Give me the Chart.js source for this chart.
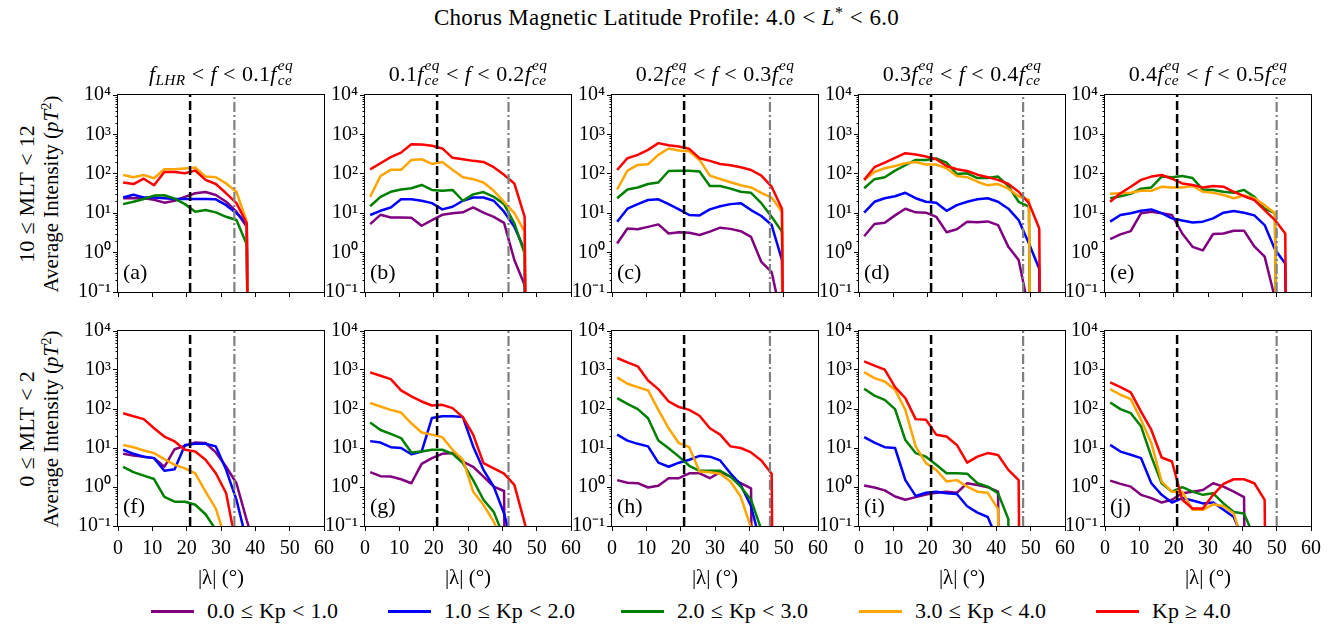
<!DOCTYPE html>
<html>
<head>
<meta charset="utf-8">
<script src="https://cdn.jsdelivr.net/npm/chart.js@4.4.1/dist/chart.umd.min.js"></script>
<style>
  body { margin: 0; background: #fff; }
  #fig { position: relative; width: 1333px; height: 628px; overflow: hidden; font-family: 'Liberation Serif', serif; color: #000; }
  #fig canvas { position: absolute; }
  .txt { position: absolute; white-space: nowrap; line-height: 24px; }
  .title { left: 0; width: 1333px; top: 6px; text-align: center; font-size: 23px; letter-spacing: 0.3px; }
  .sub { top: 57px; font-size: 22px; letter-spacing: 0.3px; transform: translateX(-50%); }
  .ylab { font-size: 21px; transform: translate(-50%, -50%) rotate(-90deg); }
  .rel { margin: 0 0.28em; }
  .txt sub { font-size: 0.7em; font-style: italic; vertical-align: -0.25em; line-height: 0; }
  .txt sup { font-size: 0.7em; vertical-align: 0.45em; line-height: 0; }
  .ss { display: inline-block; font-size: 0.7em; line-height: 1; vertical-align: -0.3em; font-style: italic; margin-left: 1px; }
  .ss span { display: block; }
  .leg { position: absolute; top: 599px; height: 24px; display: flex; align-items: center; font-size: 22px; white-space: nowrap; }
  .leg i.sw { display: inline-block; width: 43px; height: 3px; margin-right: 13px; }
</style>
</head>
<body>
<div id="fig">
  <div class="txt title">Chorus Magnetic Latitude Profile: 4.0<span class="rel">&lt;</span><i>L</i><sup>*</sup><span class="rel">&lt;</span>6.0</div>
</div>
<script>
// latitude bin centres (deg)
const X_BINS = [1.5, 4.5, 7.5, 10.5, 13.5, 16.5, 19.5, 22.5, 25.5, 28.5, 31.5, 34.5, 37.5, 40.5, 43.5, 46.5, 49.5, 52.5, 55.5, 58.5];

const KP_LABELS = ['0.0 ≤ Kp < 1.0', '1.0 ≤ Kp < 2.0', '2.0 ≤ Kp < 3.0', '3.0 ≤ Kp < 4.0', 'Kp ≥ 4.0'];
const KP_COLORS = ['#800080', '#0000ff', '#008000', '#ffa500', '#ff0000'];

const X_TICKS = [0, 10, 20, 30, 40, 50, 60];
const X_TICK_LABELS = ['0', '10', '20', '30', '40', '50', '60'];
const Y_TICKS = [0.1, 1, 10, 100, 1000, 10000];
const Y_TICK_LABELS = ['10⁻¹', '10⁰', '10¹', '10²', '10³', '10⁴'];

const PANEL_TAGS = ['(a)', '(b)', '(c)', '(d)', '(e)', '(f)', '(g)', '(h)', '(i)', '(j)'];
const ROW_LABELS = ['10 ≤ MLT < 12', '0 ≤ MLT < 2'];

// black dashed latitude and the grey dash-dot cut-off latitude for each band
const REF_LAT = 21;
const CUTOFF_LAT = [33.9, 41.8, 46.0, 47.8, 50.0];

// intensity (pT^2) per bin; rows are Kp 0-1, 1-2, 2-3, 3-4, >=4. 0 = no power
// 10 <= MLT < 12
const PANEL_A = [
  [24, 24, 24, 22, 18.5, 20.7, 26, 32, 34.5, 29, 19.5, 10.9, 4.5, 0],
  [25, 29.5, 25, 25, 24, 23, 23, 23, 23, 22.5, 16, 10, 5.5, 0],
  [17, 19.5, 23, 28, 28.5, 23.5, 17, 10.9, 12, 10.5, 8.1, 6.7, 1.6, 0],
  [93, 82, 93, 77, 130, 130, 136, 144, 85, 82, 57, 35, 6.1, 0],
  [60, 55, 75, 51, 111, 111, 103, 121, 70, 55, 32, 18, 5.5, 0]
];
const PANEL_B = [
  [5.3, 9.1, 7.8, 7.8, 7.7, 4.8, 6.7, 9.1, 10, 10.5, 14, 10.3, 8.1, 5.7, 0.65, 0.15, 0],
  [9, 11.5, 14, 22.5, 22.5, 20.7, 18, 12.5, 14.6, 20.7, 25, 25, 20.7, 10.9, 4.5, 1.15, 0],
  [15, 26, 35, 40, 43, 52, 39, 37, 39, 20.7, 30, 34.5, 26, 17, 5.5, 0.95, 0],
  [26, 88, 126, 126, 225, 234, 178, 200, 126, 82, 73, 60, 37, 19.5, 10, 3.4, 0],
  [130, 185, 265, 345, 565, 555, 515, 440, 254, 234, 213, 200, 147, 94, 57, 8.1, 0]
];
const PANEL_C = [
  [1.7, 4.1, 3.9, 4.5, 5.2, 3.06, 3.3, 3.2, 2.8, 3.4, 4.3, 4.0, 3.5, 2.5, 0.58, 0.32, 0.02],
  [6.1, 13, 17, 21.6, 22.5, 17, 12.5, 9.0, 8.8, 12.5, 15, 17, 18, 12, 8.5, 5.0, 0.65, 0],
  [24, 40, 45, 55, 60, 118, 120, 120, 114, 49, 49, 42, 35, 33, 18, 8.1, 3.4, 0],
  [40, 120, 168, 175, 302, 440, 390, 375, 225, 90, 74, 61, 51, 45, 33, 25, 10.9, 0],
  [125, 249, 302, 405, 600, 533, 493, 430, 249, 213, 178, 165, 147, 125, 90, 47, 13, 0]
];
const PANEL_D = [
  [2.6, 5.3, 5.7, 8.8, 13, 10.5, 10.3, 8.1, 3.3, 3.9, 6.1, 5.9, 6.2, 5.0, 1.4, 0.65, 0.035],
  [10.3, 19.5, 24, 27, 33, 24, 19.5, 18.5, 11.5, 16, 19.5, 22.5, 24, 19.5, 13, 6.7, 1.7, 0.39, 0],
  [43, 73, 82, 120, 165, 225, 225, 244, 193, 99, 103, 78, 78, 85, 49, 19.5, 14.6, 0],
  [70, 111, 138, 158, 185, 200, 171, 171, 138, 88, 82, 63, 51, 55, 42, 27, 21.6, 0],
  [70, 147, 193, 254, 333, 309, 274, 234, 158, 130, 118, 95, 82, 70, 55, 35, 18, 4.1, 0]
];
const PANEL_E = [
  [2.2, 2.9, 3.5, 10, 10.9, 10, 9, 3.06, 1.4, 1.14, 2.96, 3.06, 3.6, 3.6, 1.43, 0.79, 0.07],
  [6.1, 9, 10, 11.5, 12.5, 10, 7.4, 6.5, 5.8, 6.1, 7.4, 10.3, 11.3, 10.3, 8.8, 5.0, 1.2, 0.53, 0],
  [24, 27, 31, 42, 45, 85, 82, 88, 78, 40, 39, 35, 33, 39, 26, 13, 10, 0],
  [31, 32, 33, 37, 37, 47, 45, 45, 49, 35, 33, 29, 24, 28, 24, 16, 10, 0],
  [19.5, 32, 47, 70, 85, 93, 75, 57, 52, 45, 49, 47, 35, 27, 21.6, 12, 6.7, 3.06, 0]
];
// 0 <= MLT < 2
const PANEL_F = [
  [7.1, 6.4, 6, 5.5, 3.3, 9.3, 11.3, 13.8, 13.4, 7.7, 3.3, 1.25, 0.14, 0.02],
  [9, 7.1, 6, 5.5, 2.6, 2.86, 12, 12.8, 12.8, 11, 2.75, 0.47, 0.04],
  [3.3, 2.4, 1.96, 1.6, 0.56, 0.42, 0.42, 0.35, 0.2, 0.08],
  [12, 10.5, 8.6, 7.4, 5.2, 3.7, 3.0, 2.25, 0.76, 0.28, 0.04],
  [78, 65, 55, 32, 19.7, 14.7, 9, 8.1, 5, 2.25, 0.69, 0.03]
];
const PANEL_G = [
  [2.4, 1.9, 1.85, 1.58, 1.25, 3.9, 5.5, 7.1, 7.4, 4.5, 3.3, 1.85, 1.02, 0.79, 0],
  [15, 13.8, 10.5, 10, 6.9, 8.1, 59, 65, 65, 62, 11, 2.75, 1.02, 0.21, 0.02],
  [45, 29, 23, 18, 7.7, 8.1, 9, 9, 7.1, 4.1, 1.5, 0.47, 0.23, 0.05],
  [142, 116, 95, 81, 43, 25, 22, 19, 9, 5, 0.76, 0.35, 0.13, 0.03],
  [867, 713, 585, 299, 210, 156, 123, 128, 105, 62, 22, 4.1, 3.0, 2.2, 1.13, 0.12, 0.01]
];
const PANEL_H = [
  [1.5, 1.28, 1.25, 0.97, 1.08, 1.68, 1.68, 2.25, 2.25, 1.68, 2.4, 1.85, 1.25, 0.925, 0],
  [22, 15.5, 12.8, 11, 4.2, 3.3, 4.2, 5, 6.3, 6, 4.8, 2.25, 1.13, 0.32, 0.03],
  [190, 136, 99, 58, 15.5, 9.9, 6, 3.5, 2.6, 2.6, 2.6, 1.85, 1.02, 0.47, 0.08],
  [646, 444, 365, 299, 95, 32, 13.3, 10.5, 2.5, 2.4, 2.2, 1.38, 0.56, 0.09, 0.01],
  [2030, 1570, 1240, 540, 324, 156, 112, 95, 67, 32, 22, 11, 10, 7.7, 4.8, 2.2, 0]
];
const PANEL_I = [
  [1.09, 0.97, 0.82, 0.57, 0.47, 0.55, 0.64, 0.71, 0.76, 0.71, 1.25, 1.13, 0.99, 0.76, 0],
  [19, 13.8, 10.5, 10, 1.5, 0.59, 0.71, 0.76, 0.69, 0.66, 0.32, 0.22, 0.17, 0.04],
  [330, 220, 172, 99, 16, 7.4, 6, 3.7, 2.25, 2.25, 2.2, 1.25, 1.02, 0.69, 0.15, 0],
  [885, 620, 509, 311, 95, 11, 4.1, 2.75, 1.38, 1.5, 1.02, 0.76, 0.71, 0.27, 0],
  [1660, 1290, 1020, 365, 190, 55, 53, 22, 19.7, 12, 4.2, 6, 7.4, 6.6, 2.75, 1.5, 0]
];
const PANEL_J = [
  [1.46, 1.2, 1.02, 0.63, 0.52, 0.4, 0.47, 0.69, 0.76, 0.84, 1.25, 1.02, 0.76, 0.55, 0],
  [12, 8.1, 6.7, 5.5, 1.25, 0.63, 0.4, 0.52, 0.45, 0.38, 0.4, 0.26, 0.17, 0.04],
  [147, 99, 78, 36, 6, 1.25, 0.76, 0.99, 0.76, 0.63, 0.69, 0.38, 0.23, 0.21, 0.05],
  [324, 232, 179, 53, 13.3, 1.38, 0.76, 0.76, 0.26, 0.26, 0.36, 0.32, 0.21, 0.03],
  [480, 365, 266, 86, 29, 5.7, 4.5, 0.47, 0.28, 0.28, 0.63, 1.2, 1.58, 1.58, 1.25, 0.47, 0]
];

const PANELS = [PANEL_A, PANEL_B, PANEL_C, PANEL_D, PANEL_E, PANEL_F, PANEL_G, PANEL_H, PANEL_I, PANEL_J];

const BAND_LOW = ['<i>f</i><sub>LHR</sub>', '0.1', '0.2', '0.3', '0.4'];
const BAND_HIGH = ['0.1', '0.2', '0.3', '0.4', '0.5'];

// page layout of the plot boxes
const COL_LEFT = [118, 365, 612, 859, 1105];
const PLOT_W = 206;
const ROW_TOP = [95, 331];
const ROW_H = [197, 195];
const AXIS_W = 50, PAD_T = 10, PAD_R = 14;
const XAXIS_H = [8, 70];
const FONT = "'Liberation Serif', serif";

const fig = document.getElementById('fig');

const fce = '<i>f</i><span class="ss"><span>eq</span><span>ce</span></span>';
const rel = s => '<span class="rel">' + s.replace('<', '&lt;') + '</span>';
// "a ≤ Kp < b" style strings with wider spacing round the relations
const relText = s => s.split(' ').map(w => (w === '<' || w === '≤' || w === '≥') ? rel(w) : w).join('');

function bandTitle(col) {
  const low = col === 0 ? BAND_LOW[0] : BAND_LOW[col] + fce;
  return low + rel('<') + '<i>f</i>' + rel('<') + BAND_HIGH[col] + fce;
}

function addText(cls, html, left, top) {
  const d = document.createElement('div');
  d.className = 'txt ' + cls;
  d.innerHTML = html;
  if (left !== null) d.style.left = left + 'px';
  if (top !== null) d.style.top = top + 'px';
  fig.appendChild(d);
  return d;
}

// box, minor log ticks and the panel letter
const framePlugin = {
  id: 'frame',
  afterDatasetsDraw(chart, args, opts) {
    const { ctx, chartArea: a } = chart;
    const y = chart.scales.y;
    ctx.save();
    ctx.strokeStyle = '#000';
    ctx.lineWidth = 1;
    ctx.beginPath();
    for (let e = -1; e < 4; e++) {
      for (let m = 2; m <= 9; m++) {
        const py = Math.round(y.getPixelForValue(m * Math.pow(10, e))) + 0.5;
        ctx.moveTo(a.left, py);
        ctx.lineTo(a.left - 2.5, py);
      }
    }
    ctx.stroke();
    ctx.strokeRect(Math.round(a.left) - 0.5, Math.round(a.top) - 0.5, Math.round(a.right - a.left) + 1, Math.round(a.bottom - a.top) + 1);
    ctx.fillStyle = '#000';
    ctx.font = '22px ' + FONT;
    ctx.textAlign = 'left';
    ctx.textBaseline = 'alphabetic';
    ctx.fillText(opts.tag, a.left + 5, a.bottom - 13);
    ctx.restore();
  }
};

PANELS.forEach((series, p) => {
  const col = p % 5, row = Math.floor(p / 5);
  const bottomRow = row === 1;
  const W = AXIS_W + PLOT_W + PAD_R;
  const H = PAD_T + ROW_H[row] + XAXIS_H[row];

  const canvas = document.createElement('canvas');
  canvas.width = W;
  canvas.height = H;
  canvas.style.left = (COL_LEFT[col] - AXIS_W) + 'px';
  canvas.style.top = (ROW_TOP[row] - PAD_T) + 'px';
  fig.appendChild(canvas);

  const yMin = Y_TICKS[0], yMax = Y_TICKS[Y_TICKS.length - 1];
  const datasets = [
    { data: [{ x: REF_LAT, y: yMin }, { x: REF_LAT, y: yMax }], borderColor: '#000', borderWidth: 2.5, borderDash: [9, 4], order: 0 },
    { data: [{ x: CUTOFF_LAT[col], y: yMin }, { x: CUTOFF_LAT[col], y: yMax }], borderColor: '#808080', borderWidth: 2.2, borderDash: [10, 3, 2, 3], order: 0 }
  ];
  series.forEach((vals, k) => {
    datasets.push({
      label: KP_LABELS[k],
      // zero power falls off the bottom of the log axis
      data: vals.map((v, i) => ({ x: X_BINS[i], y: v > 0 ? v : 1e-30 })),
      borderColor: KP_COLORS[k],
      borderWidth: 2.5,
      borderJoinStyle: 'round',
      order: 5 - k
    });
  });
  datasets.forEach(d => { d.clip = 0; d.pointRadius = 0; d.fill = false; d.tension = 0; });

  const noPad = s => { s.paddingLeft = 0; s.paddingRight = 0; s.paddingTop = 0; s.paddingBottom = 0; };

  new Chart(canvas, {
    type: 'line',
    data: { datasets },
    options: {
      responsive: false,
      animation: false,
      devicePixelRatio: 1,
      layout: { padding: { top: PAD_T, right: PAD_R, left: 0, bottom: 0 } },
      plugins: { legend: { display: false }, tooltip: { enabled: false }, frame: { tag: PANEL_TAGS[p] } },
      scales: {
        x: {
          type: 'linear', min: 0, max: 60,
          afterBuildTicks: s => { s.ticks = X_TICKS.map(v => ({ value: v })); },
          afterFit: s => { s.height = XAXIS_H[row]; noPad(s); },
          grid: { drawOnChartArea: false, tickLength: 5, tickColor: '#000', tickWidth: 1 },
          border: { display: false },
          ticks: {
            display: bottomRow, autoSkip: false, maxRotation: 0, padding: 6, color: '#000',
            font: { family: FONT, size: 20 },
            callback: (v, i) => X_TICK_LABELS[i]
          },
          title: {
            display: bottomRow, text: '|λ| (°)', color: '#000',
            font: { family: FONT, size: 21 }, padding: { top: 0, bottom: 5 }
          }
        },
        y: {
          type: 'logarithmic', min: yMin, max: yMax,
          afterBuildTicks: s => { s.ticks = Y_TICKS.map(v => ({ value: v })); },
          afterFit: s => { s.width = AXIS_W; noPad(s); },
          grid: { drawOnChartArea: false, tickLength: 5, tickColor: '#000', tickWidth: 1 },
          border: { display: false },
          ticks: {
            autoSkip: false, padding: 2, color: '#000',
            font: { family: FONT, size: 20 },
            callback: (v, i) => Y_TICK_LABELS[i]
          }
        }
      }
    },
    plugins: [framePlugin]
  });

  if (row === 0) addText('sub', bandTitle(col), COL_LEFT[col] + PLOT_W / 2, null);
});

// row labels
ROW_TOP.forEach((top, r) => {
  const cy = top + ROW_H[r] / 2;
  addText('ylab', relText(ROW_LABELS[r]), 27, cy).style.fontSize = '22px';
  addText('ylab', 'Average Intensity (<i>pT</i><sup>2</sup>)', 51, cy);
});

// shared legend
const LEG_LEFT = [151, 388, 621, 859, 1096];
KP_LABELS.forEach((lab, k) => {
  const d = document.createElement('div');
  d.className = 'leg';
  d.style.left = LEG_LEFT[k] + 'px';
  d.innerHTML = '<i class="sw" style="background:' + KP_COLORS[k] + '"></i><span>' + relText(lab) + '</span>';
  fig.appendChild(d);
});
</script>
</body>
</html>
